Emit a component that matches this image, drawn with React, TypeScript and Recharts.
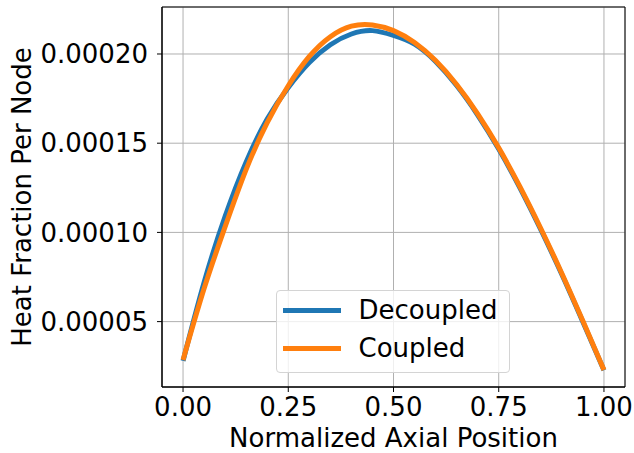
import React from 'react';
import { LineChart, Line, XAxis, YAxis, CartesianGrid, Legend, ReferenceArea } from 'recharts';

// ---- data ----
const positions = [0, 0.05, 0.1, 0.15, 0.2, 0.25, 0.3, 0.35, 0.4, 0.45, 0.5, 0.55, 0.6, 0.65, 0.7, 0.75, 0.8, 0.85, 0.9, 0.95, 1.0];
const decoupled = [
  0.0000280, 0.0000720, 0.0001090, 0.0001395, 0.0001635, 0.0001812, 0.0001952, 0.0002052, 0.0002112, 0.0002131,
  0.0002104, 0.0002055, 0.0001958, 0.0001823, 0.0001658, 0.0001467, 0.0001251, 0.0001015, 0.0000764, 0.0000498, 0.0000228,
];
const coupled = [
  0.0000285, 0.0000685, 0.0001032, 0.0001353, 0.0001615, 0.0001822, 0.0001986, 0.0002097, 0.0002156, 0.0002163,
  0.0002131, 0.0002064, 0.0001963, 0.0001829, 0.0001665, 0.0001474, 0.0001258, 0.0001022, 0.0000770, 0.0000503, 0.0000229,
];
const seriesNames = ['Decoupled', 'Coupled'];
const seriesColors = ['#1f77b4', '#ff7f0e'];
const xTicks = [0, 0.25, 0.5, 0.75, 1.0];
const yTicks = [0.00005, 0.0001, 0.00015, 0.0002];
const xTitle = 'Normalized Axial Position';
const yTitle = 'Heat Fraction Per Node';

const data = positions.map((x, i) => ({ x, decoupled: decoupled[i], coupled: coupled[i] }));

const X_DOMAIN: [number, number] = [-0.05, 1.05];
const Y_DOMAIN: [number, number] = [0.00001335, 0.00022634];

const FONT = '"DejaVu Sans", sans-serif';
const FS = 26;

const W = 634;
const H = 453;
const PLOT_LEFT = 162;
const PLOT_RIGHT = 625;
const PLOT_TOP = 7;
const PLOT_BOTTOM = 387;

const XTitle = () => (
  <text x={(PLOT_LEFT + PLOT_RIGHT) / 2} y={446.5} textAnchor="middle" fontFamily={FONT} fontSize={FS} fill="#000">
    {xTitle}
  </text>
);

const YTitle = () => {
  const x = 31;
  const y = (PLOT_TOP + PLOT_BOTTOM) / 2;
  return (
    <text x={x} y={y} transform={`rotate(-90 ${x} ${y})`} textAnchor="middle" fontFamily={FONT} fontSize={FS} fill="#000">
      {yTitle}
    </text>
  );
};

const LegendBox = () => {
  const rows = [
    { handleTop: 17.2, textTop: 4.3 },
    { handleTop: 54.8, textTop: 42.3 },
  ];
  return (
    <div
      style={{
        boxSizing: 'border-box',
        width: 234,
        height: 83,
        border: '1px solid #d4d4d4',
        borderRadius: 4,
        background: 'rgba(255,255,255,0.8)',
        position: 'relative',
        fontFamily: FONT,
        fontSize: FS,
        color: '#000',
      }}
    >
      {seriesNames.map((name, i) => (
        <React.Fragment key={name}>
          <div
            style={{
              position: 'absolute',
              left: 6.3,
              top: rows[i].handleTop,
              width: 58,
              height: 5,
              background: seriesColors[i],
            }}
          />
          <div
            style={{
              position: 'absolute',
              left: 81.5,
              top: rows[i].textTop,
              lineHeight: '30px',
              whiteSpace: 'nowrap',
            }}
          >
            {name}
          </div>
        </React.Fragment>
      ))}
    </div>
  );
};

export default function App() {
  return (
    <div style={{ position: 'absolute', left: 0, top: 0, width: W, height: H, background: '#fff' }}>
      <LineChart
        width={W}
        height={H}
        data={data}
        margin={{ top: PLOT_TOP, right: W - PLOT_RIGHT, bottom: 0, left: 0 }}
      >
        <CartesianGrid stroke="#b0b0b0" strokeWidth={1} />
        <XAxis
          dataKey="x"
          type="number"
          domain={X_DOMAIN}
          allowDataOverflow
          ticks={xTicks}
          interval={0}
          tickFormatter={(v: number) => v.toFixed(2)}
          height={H - PLOT_BOTTOM}
          tickSize={5}
          tickMargin={6}
          axisLine={{ stroke: '#000', strokeWidth: 1 }}
          tickLine={{ stroke: '#000', strokeWidth: 1 }}
          tick={{ fill: '#000', fontSize: FS, fontFamily: FONT }}
          label={<XTitle />}
        />
        <YAxis
          type="number"
          domain={Y_DOMAIN}
          allowDataOverflow
          ticks={yTicks}
          interval={0}
          tickFormatter={(v: number) => v.toFixed(5)}
          width={PLOT_LEFT}
          tickSize={5}
          tickMargin={9}
          axisLine={{ stroke: '#000', strokeWidth: 1 }}
          tickLine={{ stroke: '#000', strokeWidth: 1 }}
          tick={{ fill: '#000', fontSize: FS, fontFamily: FONT }}
          label={<YTitle />}
        />
        <ReferenceArea
          x1={X_DOMAIN[0]}
          x2={X_DOMAIN[1]}
          y1={Y_DOMAIN[0]}
          y2={Y_DOMAIN[1]}
          fill="none"
          stroke="#000"
          strokeWidth={1}
          ifOverflow="visible"
        />
        <Line
          dataKey="decoupled"
          name={seriesNames[0]}
          stroke={seriesColors[0]}
          strokeWidth={5}
          type="natural"
          dot={false}
          isAnimationActive={false}
        />
        <Line
          dataKey="coupled"
          name={seriesNames[1]}
          stroke={seriesColors[1]}
          strokeWidth={5}
          type="natural"
          dot={false}
          isAnimationActive={false}
        />
        <Legend
          layout="vertical"
          align="center"
          verticalAlign="middle"
          content={<LegendBox />}
          wrapperStyle={{ position: 'absolute', left: 276, top: 290, width: 234, height: 83 }}
        />
      </LineChart>
    </div>
  );
}
